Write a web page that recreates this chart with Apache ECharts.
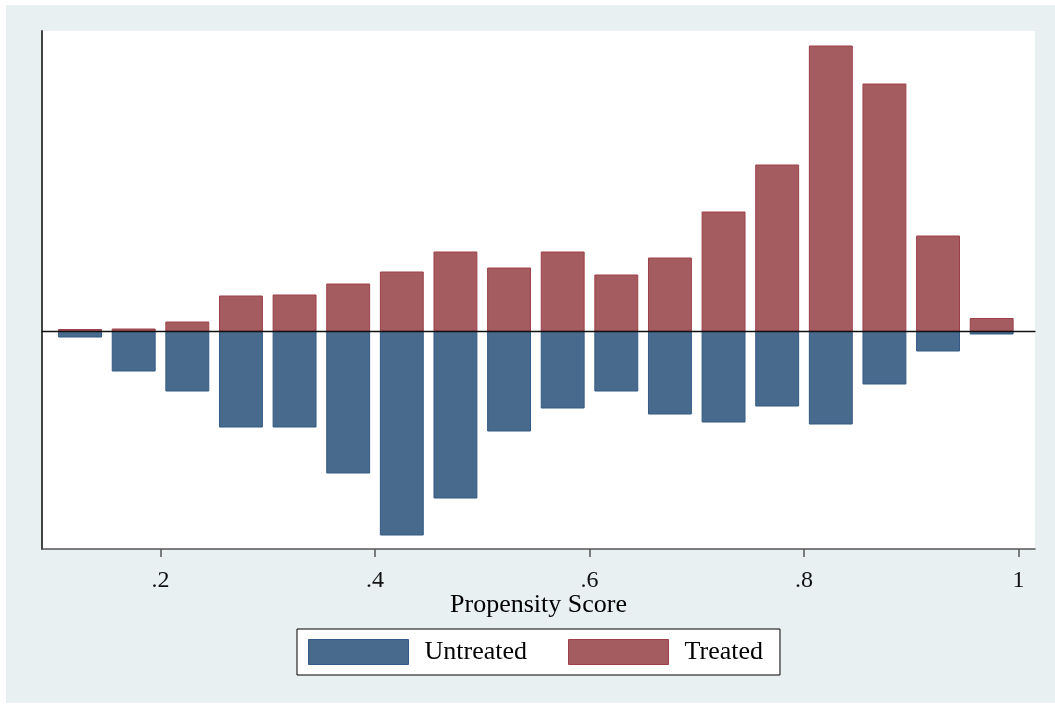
<!DOCTYPE html>
<html>
<head>
<meta charset="utf-8">
<title>Propensity Score Distribution</title>
<script src="https://cdn.jsdelivr.net/npm/echarts@6/dist/echarts.min.js"></script>
<style>
  html, body { margin: 0; padding: 0; background: #ffffff; }
  #frame { position: absolute; left: 6px; top: 5px; width: 1049px; height: 698px; background: #e8f0f2; }
  #chart { position: absolute; left: 0; top: 0; width: 1055px; height: 705px; }
</style>
</head>
<body>
<div id="frame"></div>
<div id="chart"></div>
<script>
// Histogram bins of the propensity score (bin centres, width 0.05)
const binCenters = [0.125, 0.175, 0.225, 0.275, 0.325, 0.375, 0.425, 0.475, 0.525,
                    0.575, 0.625, 0.675, 0.725, 0.775, 0.825, 0.875, 0.925, 0.975];
// Frequencies per bin: treated drawn above zero, untreated mirrored below
const treated   = [1.5, 2, 9, 35, 36, 47, 59, 79, 63, 79, 56, 73, 119, 166, 285, 247, 95, 12.5];
const untreated = [6, 40, 60, 96, 96, 142, 204, 167, 100, 77, 60, 83, 91, 75, 93, 53, 20, 3];
// Labelled x-axis ticks
const xTicks = [0.2, 0.4, 0.6, 0.8, 1.0];

const BAR_WIDTH = 0.04;       // drawn bar width in score units
const SERIF = "'Liberation Serif', 'Times New Roman', serif";
const BLUE = '#486a8c', BLUE_EDGE = '#335a84';
const RED = '#a45c60', RED_EDGE = '#9c4049';

function renderBar(params, api) {
  const x = api.value(0), y = api.value(1);
  const a = api.coord([x - BAR_WIDTH / 2, 0]);
  const b = api.coord([x + BAR_WIDTH / 2, y]);
  return {
    type: 'rect',
    shape: { x: a[0], y: Math.min(a[1], b[1]), width: b[0] - a[0], height: Math.abs(b[1] - a[1]) },
    style: api.style()
  };
}

const chart = echarts.init(document.getElementById('chart'), null, { renderer: 'canvas' });

chart.setOption({
  animation: false,
  backgroundColor: 'transparent',
  textStyle: { fontFamily: SERIF },
  grid: {
    left: 42, right: 20, top: 31, bottom: 156,
    show: true, backgroundColor: '#ffffff', borderWidth: 0
  },
  xAxis: [
    {
      type: 'value', min: 0.0895, max: 1.0154,
      name: 'Propensity Score', nameLocation: 'middle', nameGap: 43, nameMoveOverlap: false,
      nameTextStyle: { fontFamily: SERIF, fontSize: 26, color: '#000' },
      axisLine: { onZero: false, lineStyle: { color: '#555', width: 1.5 } },
      axisTick: { customValues: xTicks, length: 8, lineStyle: { color: '#555', width: 1.5 } },
      axisLabel: {
        customValues: xTicks, margin: 20, fontFamily: SERIF, fontSize: 24, color: '#111',
        formatter: v => (v >= 1 ? String(v) : String(v).replace(/^0/, ''))
      },
      splitLine: { show: false }
    },
    {
      // zero line between the two distributions
      type: 'value', min: 0.0895, max: 1.0154, z: 10,
      axisLine: { onZero: true, lineStyle: { color: '#111', width: 1.3 } },
      axisTick: { show: false }, axisLabel: { show: false }, splitLine: { show: false }
    }
  ],
  yAxis: {
    type: 'value', min: -218, max: 300,
    axisLine: { show: true, onZero: false, lineStyle: { color: '#444', width: 2 } },
    axisTick: { show: false }, axisLabel: { show: false }, splitLine: { show: false }
  },
  legend: {
    left: 297, top: 629,
    padding: [10, 17, 10, 11],
    itemWidth: 100, itemHeight: 25, itemGap: 41,
    borderColor: '#000', borderWidth: 1, backgroundColor: '#ffffff',
    textStyle: { fontFamily: SERIF, fontSize: 26, color: '#000', padding: [0, 0, 0, 11] },
    data: [
      { name: 'Untreated', icon: 'rect', itemStyle: { color: BLUE, borderColor: BLUE_EDGE, borderWidth: 1 } },
      { name: 'Treated', icon: 'rect', itemStyle: { color: RED, borderColor: RED_EDGE, borderWidth: 1 } }
    ]
  },
  series: [
    {
      name: 'Untreated', type: 'custom', renderItem: renderBar,
      itemStyle: { color: BLUE, borderColor: BLUE_EDGE, borderWidth: 1 },
      encode: { x: 0, y: 1 },
      data: binCenters.map((c, i) => [c, -untreated[i]])
    },
    {
      name: 'Treated', type: 'custom', renderItem: renderBar,
      itemStyle: { color: RED, borderColor: RED_EDGE, borderWidth: 1 },
      encode: { x: 0, y: 1 },
      data: binCenters.map((c, i) => [c, treated[i]])
    }
  ]
});
</script>
</body>
</html>
